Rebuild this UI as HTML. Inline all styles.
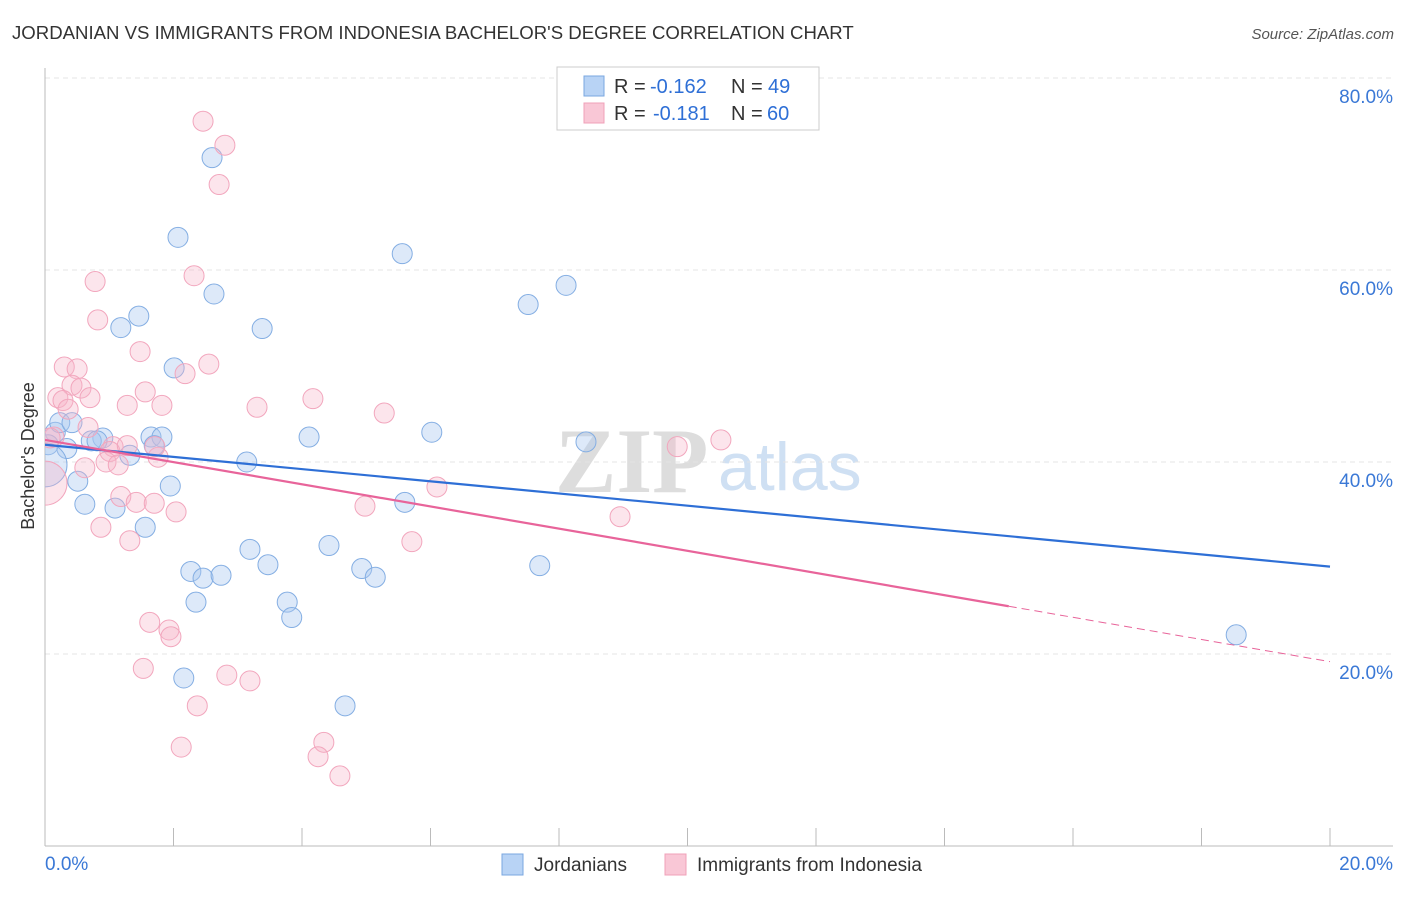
<!DOCTYPE html>
<html><head><meta charset="utf-8"><style>
body{margin:0;background:#fff;font-family:"Liberation Sans",sans-serif;}
</style></head><body>
<svg width="1406" height="892" xmlns="http://www.w3.org/2000/svg" font-family="Liberation Sans, sans-serif">
<defs><clipPath id="plot"><rect x="45" y="60" width="1360" height="786"/></clipPath></defs>
<text x="12" y="39" font-size="18.6" fill="#333">JORDANIAN VS IMMIGRANTS FROM INDONESIA BACHELOR'S DEGREE CORRELATION CHART</text>
<text x="1394" y="39" font-size="15" fill="#555" text-anchor="end" font-style="italic">Source: ZipAtlas.com</text>
<g>
<text x="555" y="492" font-size="92" fill="#ddd" font-family="Liberation Serif, serif" font-weight="bold">ZIP</text>
<text x="718" y="490" font-size="68" fill="#cfe0f3">atlas</text>
</g>
<g id="grid"></g>
<g id="axes"></g>
<text transform="translate(34,456) rotate(-90)" font-size="18" fill="#333" text-anchor="middle">Bachelor's Degree</text>
<g id="marks" clip-path="url(#plot)"></g>
<g>
<rect x="557" y="67" width="262" height="63" fill="#fff" stroke="#ccc"/>
<rect x="584" y="76" width="20" height="20" fill="#b8d3f5" stroke="#7aa7e0"/>
<rect x="584" y="103" width="20" height="20" fill="#f9c7d6" stroke="#f0a0b8"/>
<text x="614" y="93" font-size="20" fill="#333">R =</text>
<text x="650" y="93" font-size="20" fill="#2e6fd6">-0.162</text>
<text x="731" y="93" font-size="20" fill="#333">N =</text>
<text x="768" y="93" font-size="20" fill="#2e6fd6">49</text>
<text x="614" y="120" font-size="20" fill="#333">R =</text>
<text x="653" y="120" font-size="20" fill="#2e6fd6">-0.181</text>
<text x="731" y="120" font-size="20" fill="#333">N =</text>
<text x="767" y="120" font-size="20" fill="#2e6fd6">60</text>
</g>
<g>
<rect x="502" y="854" width="21" height="21" fill="#b8d3f5" stroke="#7aa7e0"/>
<text x="534" y="871" font-size="19" fill="#333">Jordanians</text>
<rect x="665" y="854" width="21" height="21" fill="#f9c7d6" stroke="#f0a0b8"/>
<text x="697" y="871" font-size="19" fill="#333">Immigrants from Indonesia</text>
</g>
</svg>
<script>
const blueX=[2.60,2.07,5.56,8.11,7.52,2.63,1.46,1.18,3.38,2.01,6.02,4.11,8.42,0.16,0.23,0.42,0.90,0.72,0.81,0.34,1.65,1.82,1.32,3.14,1.70,0.51,1.95,0.62,1.09,5.60,1.56,3.19,4.42,3.47,7.70,2.27,2.46,2.74,4.93,5.14,2.35,3.77,3.84,2.16,4.67,18.54,0.05,0];
const blueY=[71.7,63.4,61.7,58.4,56.4,57.5,55.2,54.0,53.9,49.8,43.1,42.6,42.1,43.1,44.1,44.1,42.5,42.2,42.2,41.4,42.6,42.6,40.7,40.0,41.7,38.0,37.5,35.6,35.2,35.8,33.2,30.9,31.3,29.3,29.2,28.6,27.9,28.2,28.9,28.0,25.4,25.4,23.8,17.5,14.6,22.0,41.8,39.7];
const pinkX=[2.46,2.80,2.71,2.32,0.78,0.82,1.48,2.55,2.18,0.30,0.50,0.42,0.56,0.70,0.20,0.28,0.36,1.28,1.56,1.82,3.30,4.17,5.28,10.52,9.84,0.14,0.67,1.06,1.01,1.28,0.95,1.14,0.62,1.18,1.42,1.70,2.04,4.98,6.10,8.95,0.87,1.32,5.71,1.63,1.93,1.96,1.53,2.83,3.19,2.37,2.12,4.34,4.25,4.59,1.76,1.71,0.08,0];
const pinkY=[75.5,73.0,68.9,59.4,58.8,54.8,51.5,50.2,49.2,49.9,49.7,48.0,47.7,46.7,46.7,46.4,45.5,45.9,47.3,45.9,45.7,46.6,45.1,42.3,41.6,42.6,43.6,41.6,41.1,41.7,40.0,39.7,39.4,36.4,35.8,35.7,34.8,35.4,37.4,34.3,33.2,31.8,31.7,23.3,22.5,21.8,18.5,17.8,17.2,14.6,10.3,10.8,9.3,7.3,40.5,41.6,42.5,37.8];
const blueTrend=[41.8,29.1];
const pinkTrend=[42.3,19.2];
const pinkSolidEnd=15;
const yTicks=[20,40,60,80];
const xTicks=[0,2,4,6,8,10,12,14,16,18,20];
const NS="http://www.w3.org/2000/svg";
const sx=v=>45+v*64.25, sy=v=>846-v*9.6;
function mk(tag,parent,attrs){const e=document.createElementNS(NS,tag);for(const k in attrs)e.setAttribute(k,attrs[k]);document.getElementById(parent).appendChild(e);return e;}
yTicks.forEach(t=>{
 const g=mk('line','grid',{x1:45,x2:1393,y1:sy(t),y2:sy(t),stroke:'#e4e4e4','stroke-dasharray':'5,4'});
 
 
 const l=mk('text','grid',{x:1393,y:sy(t)+25,'font-size':19,fill:'#3a78d6','text-anchor':'end'});
 
 
 l.textContent=t.toFixed(1)+'%';
});
const ax=mk('line','axes',{x1:45,x2:1393,y1:846,y2:846,stroke:'#bbb'});


const ay=mk('line','axes',{x1:45,x2:45,y1:68,y2:846,stroke:'#bbb'});


xTicks.forEach(t=>{
 const k=mk('line','axes',{x1:sx(t),x2:sx(t),y1:828,y2:846,stroke:'#bbb'});
 
 
});
[[0,'start',45],[20,'end',1393]].forEach(([t,a,x])=>{
 const l=mk('text','axes',{x:x,y:870,'font-size':19,fill:'#3a78d6','text-anchor':a});
 
 
 l.textContent=t.toFixed(1)+'%';
});
function pts(X,Y,fill,stroke,name){
 X.forEach((x,i)=>{
  const r=x===0?22:10;
  const c=mk('circle','marks',{cx:sx(x),cy:sy(Y[i]),r:r,fill:fill,stroke:stroke,'stroke-width':1});
  
  
 });
}
pts(blueX,blueY,'rgba(170,200,240,0.4)','#84aee3','jordanian-point');
pts(pinkX,pinkY,'rgba(246,180,200,0.35)','#f2a6bd','indonesia-point');
const bl=mk('line','marks',{x1:sx(0),y1:sy(blueTrend[0]),x2:sx(20),y2:sy(blueTrend[1]),stroke:'#2e6fd6','stroke-width':2.2});


const pAt=v=>pinkTrend[0]+(pinkTrend[1]-pinkTrend[0])*v/20;
const pl=mk('line','marks',{x1:sx(0),y1:sy(pinkTrend[0]),x2:sx(pinkSolidEnd),y2:sy(pAt(pinkSolidEnd)),stroke:'#e8649a','stroke-width':2.2});


const pd=mk('line','marks',{x1:sx(pinkSolidEnd),y1:sy(pAt(pinkSolidEnd)),x2:sx(20),y2:sy(pinkTrend[1]),stroke:'#e8649a','stroke-width':1,'stroke-dasharray':'8,5'});


</script>
</body></html>
